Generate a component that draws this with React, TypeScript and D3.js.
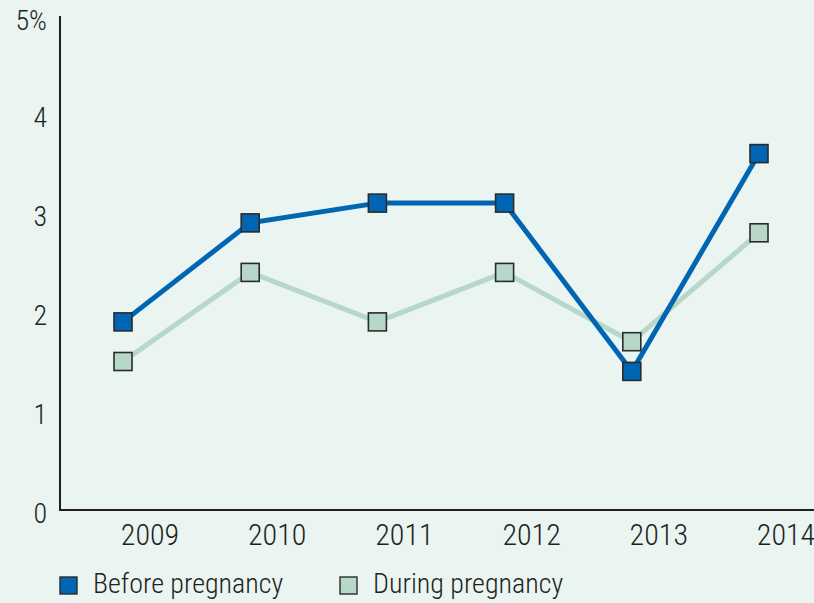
import React from "react";
import * as d3 from "d3";

const years = ["2009", "2010", "2011", "2012", "2013", "2014"];
const beforePregnancy = [1.9, 2.9, 3.1, 3.1, 1.4, 3.6];
const duringPregnancy = [1.5, 2.4, 1.9, 2.4, 1.7, 2.8];
const yTicks = [0, 1, 2, 3, 4, 5];
const seriesNames = ["Before pregnancy", "During pregnancy"];

const W = 814;
const H = 603;
const BG = "#eaf4f1";
const BLUE = "#0066b3";
const GREEN = "#b7d7c9";
const AXIS = "#231f20";
const FONT = "'Roboto Condensed', 'Arial Narrow', sans-serif";

export default function App() {
  const x = d3.scalePoint<string>().domain(years).range([123, 759]);
  const y = d3.scaleLinear().domain([0, 5]).range([510, 15]);
  const line = d3
    .line<number>()
    .x((_, i) => x(years[i]) as number)
    .y((d) => y(d));

  const series = [
    { name: seriesNames[0], data: beforePregnancy, color: BLUE },
    { name: seriesNames[1], data: duringPregnancy, color: GREEN },
  ];
  const ms = 18;

  return (
    <div style={{ position: "absolute", left: 0, top: 0 }}>
      <svg width={W} height={H} style={{ display: "block" }}>
        <rect x={0} y={0} width={W} height={H} fill={BG} />
        <line x1={60} x2={60} y1={16} y2={y(0)} stroke={AXIS} strokeWidth={2} />
        <line x1={59} x2={W} y1={y(0)} y2={y(0)} stroke={AXIS} strokeWidth={2} />
        {yTicks.map((t) => (
          <text
            key={t}
            x={47}
            y={y(t) + (t === 5 ? 15 : 13)}
            textAnchor="end"
            fontFamily={FONT}
            fontWeight={300}
            fontSize={28}
            fill={AXIS}
          >
            {t === 5 ? "5%" : String(t)}
          </text>
        ))}
        {years.map((yr) => (
          <text
            key={yr}
            x={(x(yr) as number) + 27}
            y={545}
            textAnchor="middle"
            fontFamily={FONT}
            fontWeight={300}
            fontSize={30}
            fill={AXIS}
          >
            {yr}
          </text>
        ))}
        {[series[1], series[0]].map((s) => (
          <path
            key={s.name}
            d={line(s.data) || ""}
            fill="none"
            stroke={s.color}
            strokeWidth={5}
            strokeLinejoin="round"
          />
        ))}
        {[series[1], series[0]].map((s) =>
          s.data.map((v, i) => (
            <rect
              key={s.name + i}
              x={(x(years[i]) as number) - ms / 2}
              y={y(v) - ms / 2}
              width={ms}
              height={ms}
              fill={s.color}
              stroke="#2b2b2b"
              strokeWidth={1.6}
            />
          ))
        )}
        {series.map((s, i) => {
          const lx = i === 0 ? 60 : 340;
          return (
            <g key={s.name}>
              <rect x={lx} y={577} width={17} height={17} fill={s.color} stroke="#2b2b2b" strokeWidth={1.4} />
              <text x={lx + 33} y={593} fontFamily={FONT} fontWeight={300} fontSize={28} fill={AXIS}>
                {s.name}
              </text>
            </g>
          );
        })}
      </svg>
    </div>
  );
}
